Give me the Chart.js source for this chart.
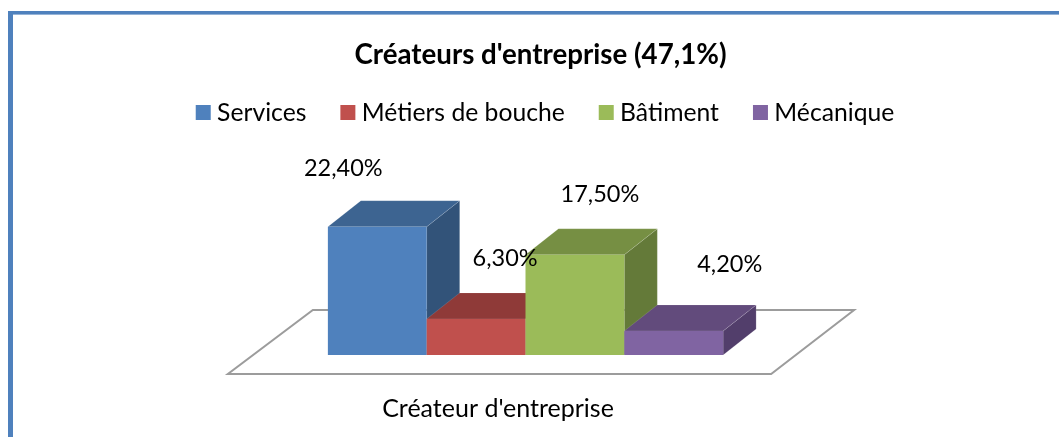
<!DOCTYPE html>
<html lang="fr">
<head>
<meta charset="utf-8">
<title>Créateurs d'entreprise</title>
<script src="https://cdn.jsdelivr.net/npm/chart.js@4"></script>
<style>
html,body{margin:0;padding:0;background:#fff;overflow:hidden}
#frame{position:absolute;left:8px;top:11px;width:1051px;height:426px;box-sizing:border-box;
 border-left:5px solid #4f81bd;border-top:3px solid #4f81bd;}
#line{position:absolute;left:13px;top:14px;width:1046px;height:1px;background:#95b3d7}
canvas{position:absolute;left:0;top:0}
</style>
</head>
<body>
<div id="frame"></div><div id="line"></div>
<canvas id="c" width="1059" height="437"></canvas>
<script>
const titleText = "Créateurs d'entreprise (47,1%)";
const categories = ["Créateur d'entreprise"];
const seriesNames = ["Services", "Métiers de bouche", "Bâtiment", "Mécanique"];
const seriesValues = [22.4, 6.3, 17.5, 4.2];
const frontColors = ["#4f81bd", "#c0504d", "#9bbb59", "#8064a2"];
const topColors = ["#3d6491", "#8f3a38", "#768f43", "#624b7c"];
const sideColors = ["#325379", "#7a2f2d", "#647a39", "#523e6b"];
const labelShift = [[-34, -58], [29, -60], [25, -60], [56, -67]];
const FONT = "Lato, sans-serif";
const depth = { x: 33, y: 26 };

function poly(ctx, pts, fill, edge) {
  ctx.beginPath();
  pts.forEach((p, i) => i ? ctx.lineTo(p[0], p[1]) : ctx.moveTo(p[0], p[1]));
  ctx.closePath();
  if (fill) { ctx.fillStyle = fill; ctx.fill(); }
  if (edge) { ctx.strokeStyle = edge; ctx.lineWidth = 1; ctx.stroke(); }
}

const box3d = {
  id: "box3d",
  afterLayout(chart) {
    const lg = chart.legend;
    lg.left += 7.5; lg.right += 7.5; lg.top -= 11; lg.bottom -= 11;
  },
  beforeDatasetDraw() { return false; },
  afterDatasetsDraw(chart) {
    const ctx = chart.ctx;
    const first = chart.getDatasetMeta(0).data[0];
    const last = chart.getDatasetMeta(seriesNames.length - 1).data[0];
    const base = first.base;
    const a = first.x - first.width / 2 - 100, b = last.x + last.width / 2 + 48;
    ctx.save();
    ctx.beginPath();
    ctx.moveTo(a, base + 19); ctx.lineTo(b, base + 19); ctx.lineTo(b + 83, base - 45);
    ctx.lineTo(a + 85, base - 45); ctx.closePath();
    ctx.strokeStyle = "#9c9c9c"; ctx.lineWidth = 2; ctx.stroke();
    const d = depth, e = "rgba(255,255,255,0.12)";
    seriesNames.forEach((n, i) => {
      const meta = chart.getDatasetMeta(i), el = meta.data[0];
      const l = el.x - el.width / 2, r = el.x + el.width / 2, t = el.y, bt = el.base;
      poly(ctx, [[r, t], [r + d.x, t - d.y], [r + d.x, bt - d.y], [r, bt]], sideColors[i], e);
      poly(ctx, [[l, t], [l + d.x, t - d.y], [r + d.x, t - d.y], [r, t]], topColors[i], e);
      meta.controller.draw();
    });
    ctx.font = "23.5px " + FONT;
    ctx.fillStyle = "#000";
    ctx.textAlign = "center";
    ctx.textBaseline = "middle";
    seriesValues.forEach((v, i) => {
      const el = chart.getDatasetMeta(i).data[0];
      ctx.fillText(v.toFixed(2).replace(".", ",") + "%", el.x + labelShift[i][0], el.y + labelShift[i][1]);
    });
    ctx.restore();
  }
};

new Chart(document.getElementById("c"), {
  type: "bar",
  data: {
    labels: categories,
    datasets: seriesNames.map((name, i) => ({
      label: name,
      data: [seriesValues[i]],
      backgroundColor: frontColors[i],
      borderWidth: 0,
      categoryPercentage: 0.3925,
      barPercentage: 1
    }))
  },
  options: {
    responsive: false,
    animation: false,
    layout: { padding: { left: 22, right: 0, top: 0, bottom: 0 } },
    plugins: {
      tooltip: { enabled: false },
      title: {
        display: true,
        text: titleText,
        color: "#000",
        font: { family: FONT, size: 27.7, weight: "bold" },
        padding: { top: 38, bottom: 0 }
      },
      legend: {
        display: true,
        position: "top",
        labels: {
          color: "#000",
          font: { family: FONT, size: 24.7 },
          usePointStyle: true,
          pointStyle: "rect",
          boxWidth: 3,
          boxHeight: 15,
          padding: 40
        }
      }
    },
    scales: {
      x: {
        grid: { display: false, drawTicks: false },
        border: { display: false },
        ticks: { color: "#000", font: { family: FONT, size: 25 }, padding: 38.6, labelOffset: -27.5, maxRotation: 0 },
        afterFit(s) { s.height = 82; }
      },
      y: {
        position: "right",
        min: 0,
        max: 36.5,
        grid: { display: false, drawTicks: false },
        border: { display: false },
        ticks: { display: false },
        afterFit(s) { s.width = 30; }
      }
    }
  },
  plugins: [box3d]
});
</script>
</body>
</html>
